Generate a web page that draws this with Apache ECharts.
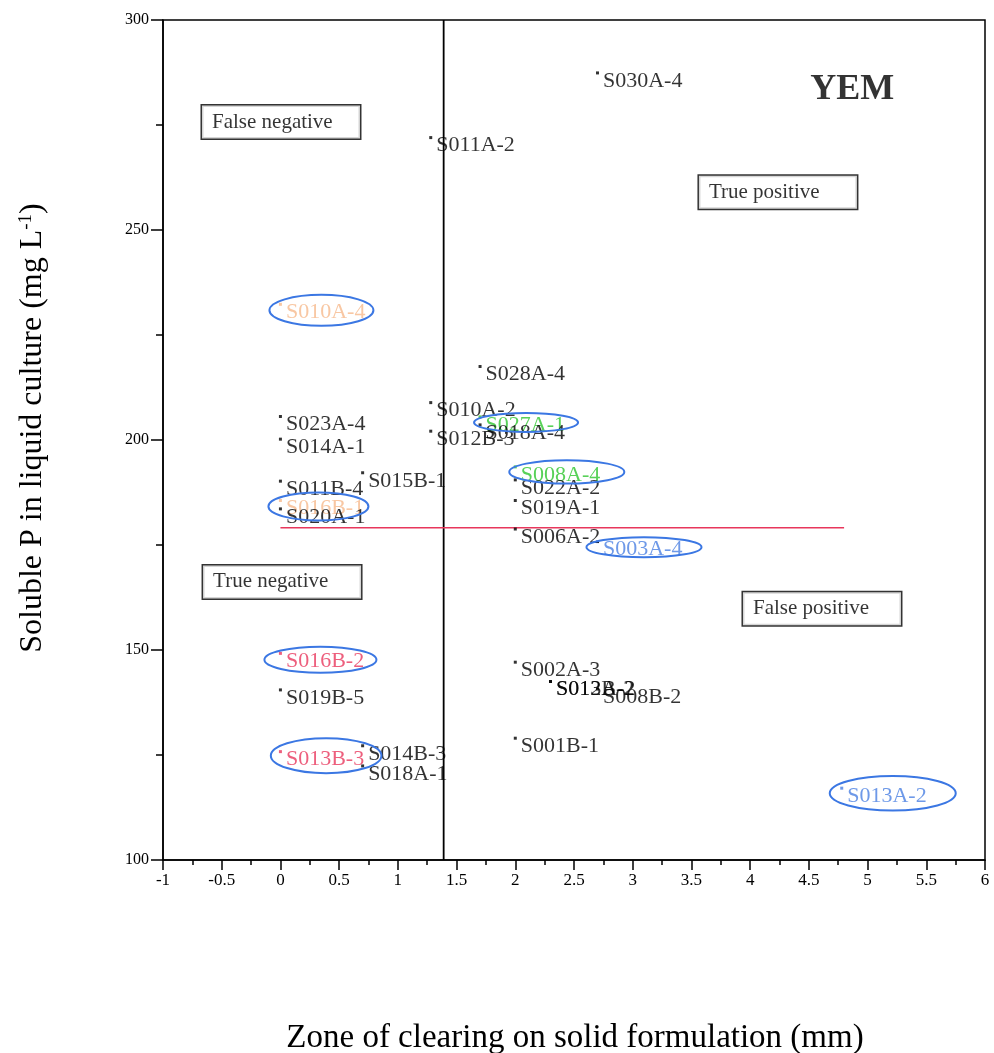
<!DOCTYPE html>
<html><head><meta charset="utf-8">
<script src="https://cdn.jsdelivr.net/npm/echarts@6/dist/echarts.min.js"></script>
<style>html,body{margin:0;padding:0;background:#fff}#c{width:994px;height:1053px}</style>
</head><body><div id="c"></div>
<script>
// ---- data ----
const isolates = ['S030A-4','S011A-2','S010A-4','S023A-4','S014A-1','S011B-4','S016B-1','S020A-1','S015B-1','S010A-2','S012B-3','S028A-4','S027A-1','S018A-4','S008A-4','S022A-2','S019A-1','S006A-2','S003A-4','S016B-2','S019B-5','S013B-3','S014B-3','S018A-1','S002A-3','S013B-2','S012A-2','S008B-2','S001B-1','S013A-2'];
const zoneMm = [2.7,1.28,0,0,0,0,0,0,0.7,1.28,1.28,1.7,1.7,1.7,2,2,2,2,2.7,0,0,0,0.7,0.7,2,2.3,2.3,2.7,2,4.78];
const solubleP = [287.4,272,232.3,205.6,200.2,190.2,185.6,183.6,192.2,208.9,202.1,217.5,205.5,203.6,193.6,190.5,185.6,178.8,175.8,149.2,140.5,125.8,127.2,122.4,147.1,142.5,142.5,140.7,129,117.1];
const zoneThreshold = 1.39;          // vertical cut-off (mm)
const pThreshold = 179.1;            // horizontal cut-off (mg/L)
const pThresholdRange = [0, 4.8];
const quadrantLabels = ['False negative','True positive','True negative','False positive'];
const quadrantPos = [[-0.668,275.7],[3.564,259.0],[-0.659,166.2],[3.939,159.8]];
const panelTitle = 'YEM';
const panelTitlePos = [4.87, 283.4];
const xTicks = {min:-1, max:6, interval:0.5};
const yTicks = {min:100, max:300, interval:50};

// ---- styles ----
const FONT = '"Liberation Serif","Times New Roman",serif';
const colorOf = {
  'S010A-4':'#f6b98c','S016B-1':'#f6b98c',
  'S027A-1':'#2ec52e','S008A-4':'#2ec52e',
  'S003A-4':'#4a80e2','S013A-2':'#4a80e2',
  'S016B-2':'#e8375c','S013B-3':'#e8375c'
};
// ellipse: [dx, dy, rx, ry] relative to the point in pixels
const ellipseOf = {
  'S010A-4':[41,6,52,15.5],'S016B-1':[38,6,50,14],
  'S027A-1':[46,5.5,52,9.5],'S008A-4':[51.5,5,57.5,11.7],
  'S003A-4':[46.5,5.5,57.5,10],'S016B-2':[40,6.4,56,13],
  'S013B-3':[45.7,4,55.3,17.5],'S013A-2':[51,5,63,17.3]
};

const pts = isolates.map((n,i)=>({
  name:n, value:[zoneMm[i], solubleP[i]],
  itemStyle:{color: colorOf[n] || '#000'},
  label:{color: colorOf[n] || '#000'}
}));
const ellData = isolates.map((n,i)=>[zoneMm[i], solubleP[i], n]).filter(d=>ellipseOf[d[2]]);

const chart = echarts.init(document.getElementById('c'));
chart.setOption({
  animation:false,
  backgroundColor:'#fff',
  grid:{left:163, top:20, right:9, bottom:193, show:true, borderColor:'#000', borderWidth:1.5, backgroundColor:'transparent'},
  xAxis:{type:'value', min:xTicks.min, max:xTicks.max, interval:xTicks.interval,
    axisLine:{show:true, onZero:false, lineStyle:{color:'#000', width:1.5}},
    axisTick:{show:true, inside:false, length:10, lineStyle:{color:'#000', width:1.5}},
    minorTick:{show:true, splitNumber:2, length:5, lineStyle:{color:'#000', width:1.5}},
    splitLine:{show:false},
    axisLabel:{color:'#000', fontFamily:FONT, fontSize:17, margin:12}},
  yAxis:{type:'value', min:yTicks.min, max:yTicks.max, interval:yTicks.interval,
    axisLine:{show:true, onZero:false, lineStyle:{color:'#000', width:1.5}},
    axisTick:{show:true, inside:false, length:12, lineStyle:{color:'#000', width:1.5}},
    minorTick:{show:true, splitNumber:2, length:7, lineStyle:{color:'#000', width:1.5}},
    splitLine:{show:false},
    axisLabel:{color:'#000', fontFamily:FONT, fontSize:16, margin:14}},
  graphic:[
    {type:'text', x:33, y:428, rotation:Math.PI/2,
     style:{text:'{a|Soluble P in liquid culture (mg L}{s|-1}{a|)}', align:'center', verticalAlign:'middle',
       rich:{a:{fontFamily:FONT, fontSize:32, fill:'#000'},
             s:{fontFamily:FONT, fontSize:19, fill:'#000', verticalAlign:'top', padding:[0,0,14,0]}}}},
    {type:'text', x:575, y:1038,
     style:{text:'Zone of clearing on solid formulation (mm)', fontFamily:FONT, fontSize:33, fill:'#000', align:'center', verticalAlign:'middle'}}
  ],
  series:[
    {type:'line', data:[[zoneThreshold, yTicks.min],[zoneThreshold, yTicks.max]], symbol:'none',
     lineStyle:{color:'#000', width:1.8}, silent:true, z:1},
    {type:'line', data:[[pThresholdRange[0], pThreshold],[pThresholdRange[1], pThreshold]], symbol:'none',
     lineStyle:{color:'#e8375c', width:1.5}, silent:true, z:1},
    {type:'scatter', data:pts, symbol:'rect', symbolSize:3, z:3,
     label:{show:true, position:'right', distance:4, offset:[0,8], formatter:'{b}',
       fontFamily:FONT, fontSize:22}},
    {type:'custom', data:ellData, z:4, silent:true,
     renderItem:function(params, api){
       const p = api.coord([api.value(0), api.value(1)]);
       const e = ellipseOf[ellData[params.dataIndex][2]];
       return {type:'ellipse', shape:{cx:p[0]+e[0], cy:p[1]+e[1], rx:e[2], ry:e[3]},
         style:{fill:'none', stroke:'#3b77e3', lineWidth:2}};
     }},
    {type:'scatter', data:quadrantLabels.map((t,i)=>({name:t, value:quadrantPos[i]})), symbolSize:0, z:5, silent:true,
     label:{show:true, position:'inside', formatter:'{b}', fontFamily:FONT, fontSize:21, color:'#000',
       backgroundColor:'#fff', borderColor:'#000', borderWidth:1.5, width:138, align:'left',
       padding:[9,10,3,10]}},
    {type:'scatter', data:[{name:panelTitle, value:panelTitlePos}], symbolSize:0, z:5, silent:true,
     label:{show:true, position:'inside', formatter:'{b}', fontFamily:FONT, fontSize:36, fontWeight:'bold', color:'#000'}}
  ]
});
</script></body></html>
